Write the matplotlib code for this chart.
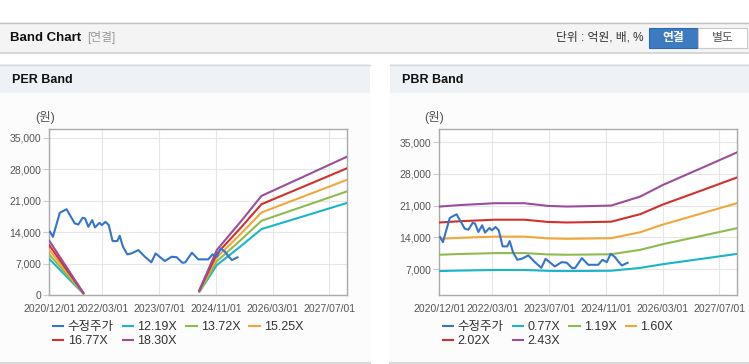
import numpy as np
import pandas as pd
import matplotlib
matplotlib.use('Agg')
import matplotlib.pyplot as plt
from matplotlib.patches import Rectangle
from matplotlib.lines import Line2D
from matplotlib.ticker import FuncFormatter

plt.rcParams['font.family'] = ['Liberation Sans', 'Noto Sans CJK KR']

# 수정주가 (same series on both panels)
price_dates = ['2020-12-07', '2021-01-01', '2021-03-01', '2021-04-28', '2021-07-07',
               '2021-08-07', '2021-09-13', '2021-10-04', '2021-11-01', '2021-12-04',
               '2021-12-28', '2022-02-04', '2022-02-25', '2022-03-28', '2022-04-25',
               '2022-05-28', '2022-07-07', '2022-07-28', '2022-08-25', '2022-10-01',
               '2022-11-07', '2023-01-04', '2023-03-01', '2023-04-25', '2023-06-01',
               '2023-06-28', '2023-08-19', '2023-10-16', '2023-11-28', '2024-01-16',
               '2024-02-10', '2024-04-07', '2024-06-01', '2024-08-25', '2024-10-01',
               '2024-11-07', '2024-12-10', '2025-01-16', '2025-02-13', '2025-03-16',
               '2025-05-04']
price = [14090, 12980, 18300, 19100, 15950, 15700, 17200, 17050, 15200, 16680,
         15060, 16080, 15570, 16300, 15570, 12030, 12030, 13200, 10760, 9080,
         9300, 10030, 8550, 7310, 9300, 8700, 7600, 8550, 8450, 7220,
         7300, 9440, 7970, 7970, 9080, 8550, 10410, 9660, 8700, 7820,
         8420]

# PER band: EPS base
eps_dates = ['2020-12-01', '2021-09-19', '2021-10-01', '2024-06-10', '2024-11-07',
             '2025-06-07', '2025-11-25', '2026-11-16', '2027-11-28']
eps = [661, 30, np.nan, 62, 550, 905, 1205, 1435, 1680]
per_mult = [12.19, 13.72, 15.25, 16.77, 18.30]

# PBR band: BPS base
bps_dates = ['2020-12-01', '2021-06-01', '2021-12-01', '2022-03-20', '2022-12-01',
             '2023-06-20', '2023-12-01', '2024-06-01', '2024-12-15', '2025-08-20',
             '2026-03-04', '2026-10-19', '2027-06-04', '2027-11-25']
bps = [8560, 8700, 8800, 8864, 8864, 8621, 8560, 8600, 8650, 9465,
       10527, 11584, 12642, 13457]
pbr_mult = [0.77, 1.19, 1.60, 2.02, 2.43]

tick_dates = ['2020-12-01', '2022-03-01', '2023-07-01', '2024-11-01', '2026-03-01', '2027-07-01']
tick_labels = ['2020/12/01', '2022/03/01', '2023/07/01', '2024/11/01', '2026/03/01', '2027/07/01']

price_color = '#3574c8'
band_colors = ['#1cb4c8', '#8fbb4e', '#f4a63a', '#d1302c', '#9a4e9b']

W, H = 749, 364
fig = plt.figure(figsize=(W / 100, H / 100), dpi=100)
fig.patch.set_facecolor('white')


def box(x, y, w, h, fc, ec='none', lw=0):
    fig.patches.append(Rectangle((x / W, 1 - (y + h) / H), w / W, h / H,
                                 transform=fig.transFigure, fc=fc, ec=ec, lw=lw, zorder=-3))


def hline(x0, x1, y, color, lw=1):
    fig.add_artist(Line2D([x0 / W, x1 / W], [1 - y / H, 1 - y / H],
                          transform=fig.transFigure, color=color, lw=lw, zorder=-2))


def txt(x, y, s, **kw):
    fig.text(x / W, 1 - y / H, s, va='center', **kw)


# header bar
box(0, 22, W, 30, '#f4f4f4')
hline(0, W, 22.5, '#c4c4c4')
hline(0, W, 52.5, '#cfcfcf', lw=1.2)
txt(10, 38, 'Band Chart', fontsize=9.5, fontweight='bold', color='#111111')
txt(87, 38, '[연결]', fontsize=8.5, color='#999999')
txt(644, 38, '단위 : 억원, 배, %', fontsize=8.5, color='#333333', ha='right')
box(649, 28, 49, 20, '#3d7bc1', ec='#2f69ad', lw=0.8)
txt(673.5, 38, '연결', fontsize=8.5, fontweight='bold', color='white', ha='center')
box(698, 28, 49, 20, 'white', ec='#c8c8c8', lw=0.8)
txt(722.5, 38, '별도', fontsize=8.5, color='#555555', ha='center')

# panels
for px, pw, title in [(0, 370, 'PER Band'), (390, 359, 'PBR Band')]:
    box(px, 64, pw, 299, '#fcfcfc')
    box(px, 64, pw, 29, '#eef1f6')
    hline(px, px + pw, 64.5, '#d8d8d8')
    hline(px, px + pw, 362.5, '#d8d8d8', lw=1.5)
    txt(px + 12, 80, title, fontsize=9, fontweight='bold', color='#111111')


def band_axes(left, dates, base, mults, ylo, yhi, yticks, unit_x):
    ax = fig.add_axes([left / W, 1 - 295.3 / H, 298 / W, 166.8 / H])
    ax.set_facecolor('white')
    handles = []
    h, = ax.plot(pd.to_datetime(price_dates), price, color=price_color, lw=1.5, zorder=5)
    handles.append(h)
    d = pd.to_datetime(dates)
    b = np.array(base, dtype=float)
    for m, c in zip(mults, band_colors):
        h, = ax.plot(d, b * m, color=c, lw=1.5, zorder=3)
        handles.append(h)
    ax.set_xlim(pd.Timestamp('2020-12-01'), pd.Timestamp('2027-12-01'))
    ax.set_ylim(ylo, yhi)
    ax.set_xticks(pd.to_datetime(tick_dates))
    ax.set_xticklabels(tick_labels)
    ax.set_yticks(yticks)
    ax.yaxis.set_major_formatter(FuncFormatter(lambda v, _: f'{v:,.0f}'))
    ax.grid(True, color='#e6e6e6', lw=0.8)
    ax.set_axisbelow(True)
    for s in ax.spines.values():
        s.set_color('#aaaaaa')
        s.set_linewidth(1)
    ax.tick_params(axis='y', length=4, width=0.8, color='#cccccc', labelsize=7.5, labelcolor='#555555', pad=2)
    ax.tick_params(axis='x', length=0, labelsize=7.5, labelcolor='#555555', pad=6)
    txt(unit_x, 118, '(원)', fontsize=9, color='#555555', ha='center')
    labels = ['수정주가'] + [f'{m:.2f}X' for m in mults]
    # legend fills column-first; reorder so it reads row by row
    order = [0, 4, 1, 5, 2, 3]
    ax.legend([handles[i] for i in order], [labels[i] for i in order],
              loc='upper left', bbox_to_anchor=((left + 3.5) / W, 1 - 321 / H),
              bbox_transform=fig.transFigure, ncol=4, frameon=False, fontsize=9,
              handlelength=0.85, handletextpad=0.35, columnspacing=0.7, borderpad=0,
              borderaxespad=0, labelspacing=0.2, labelcolor='#333333')
    return ax


band_axes(49.3, eps_dates, eps, per_mult, 0, 37000, range(0, 35001, 7000), 45)
band_axes(439.3, bps_dates, bps, pbr_mult, 1250, 38000, range(7000, 35001, 7000), 434)

fig.savefig('out.png', dpi=100)
